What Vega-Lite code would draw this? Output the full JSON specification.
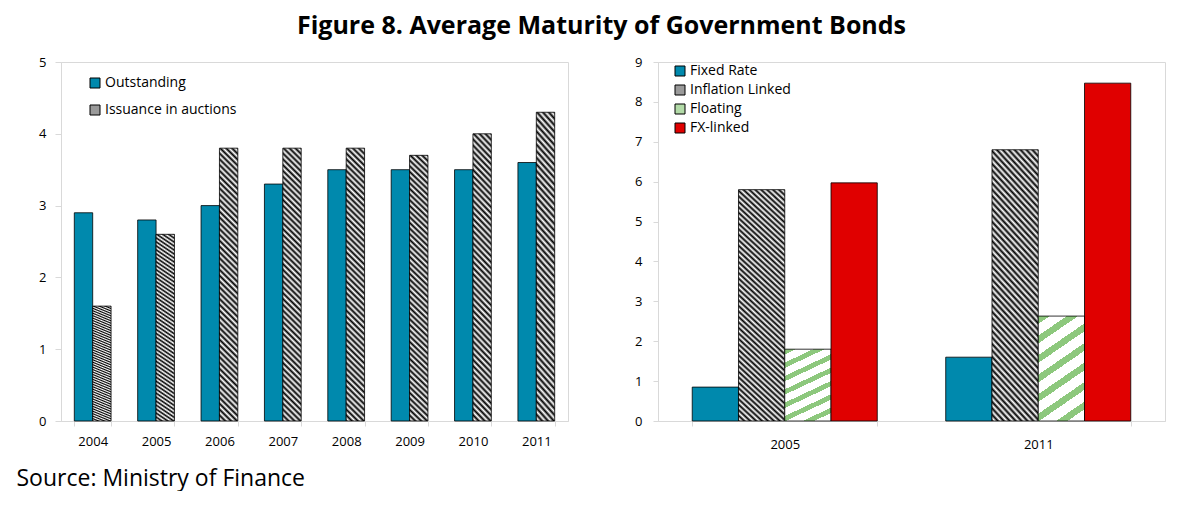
{
  "$schema": "https://vega.github.io/schema/vega-lite/v6.json",
  "background": "white",
  "padding": {"left": 15, "top": 13, "right": 0, "bottom": 0},
  "title": {"text": "Figure 8. Average Maturity of Government Bonds", "font": "Open Sans", "fontSize": 25, "fontWeight": "bold", "color": "black", "anchor": "middle", "frame": "bounds", "offset": 17, "dx": 11},
  "config": {
    "view": {"stroke": "#d9d9d9", "strokeWidth": 1},
    "axis": {"labelFont": "Open Sans", "labelColor": "black", "labelFontSize": 13, "domainColor": "#d9d9d9", "tickColor": "#d9d9d9", "grid": false, "title": null},
    "legend": {"labelFont": "Open Sans", "labelFontSize": 14, "labelColor": "black", "symbolType": "square", "symbolSize": 100, "symbolStrokeColor": "black", "symbolStrokeWidth": 1, "labelOffset": 3, "title": null}
  },
  "spacing": 65,
  "resolve": {"scale": {"fill": "independent", "x": "independent", "y": "independent", "xOffset": "independent"}, "legend": {"fill": "independent"}},
  "hconcat": [
    {
      "width": 507,
      "height": 359,
      "data": {"values": [
        {"year": "2004", "series": "Outstanding", "value": 2.9},
        {"year": "2005", "series": "Outstanding", "value": 2.8},
        {"year": "2006", "series": "Outstanding", "value": 3.0},
        {"year": "2007", "series": "Outstanding", "value": 3.3},
        {"year": "2008", "series": "Outstanding", "value": 3.5},
        {"year": "2009", "series": "Outstanding", "value": 3.5},
        {"year": "2010", "series": "Outstanding", "value": 3.5},
        {"year": "2011", "series": "Outstanding", "value": 3.6},
        {"year": "2004", "series": "Issuance in auctions", "value": 1.6},
        {"year": "2005", "series": "Issuance in auctions", "value": 2.6},
        {"year": "2006", "series": "Issuance in auctions", "value": 3.8},
        {"year": "2007", "series": "Issuance in auctions", "value": 3.8},
        {"year": "2008", "series": "Issuance in auctions", "value": 3.8},
        {"year": "2009", "series": "Issuance in auctions", "value": 3.7},
        {"year": "2010", "series": "Issuance in auctions", "value": 4.0},
        {"year": "2011", "series": "Issuance in auctions", "value": 4.3}
      ]},
      "mark": {"type": "bar", "stroke": "black", "strokeWidth": 0.8},
      "encoding": {
        "x": {"field": "year", "type": "ordinal", "scale": {"paddingInner": 0.42, "paddingOuter": 0.21},
          "axis": {"labelAngle": 0, "tickBand": "extent", "tickSize": 5, "labelPadding": 9,
            "title": "Source: Ministry of Finance", "titleFont": "Open Sans", "titleFontSize": 23, "titleFontWeight": "normal", "titleColor": "black",
            "titleAnchor": "start", "titleAlign": "left", "titleBaseline": "middle", "titleX": -45, "titleY": 57}},
        "xOffset": {"field": "series", "sort": ["Outstanding", "Issuance in auctions"]},
        "y": {"field": "value", "type": "quantitative", "scale": {"domain": [0, 5]},
          "axis": {"values": [0, 1, 2, 3, 4, 5], "tickSize": 6, "labelPadding": 9}},
        "fill": {
          "condition": {"test": "datum.series === 'Issuance in auctions'", "value": {"gradient": "linear", "x1": 0, "y1": 1, "x2": 0.0708, "y2": -0.062, "stops": [
            {"offset":0,"color":"#000"},{"offset":0.01,"color":"#fff"},{"offset":0.02,"color":"#000"},{"offset":0.03,"color":"#fff"},{"offset":0.04,"color":"#000"},{"offset":0.05,"color":"#fff"},{"offset":0.06,"color":"#000"},{"offset":0.07,"color":"#fff"},{"offset":0.08,"color":"#000"},{"offset":0.09,"color":"#fff"},
            {"offset":0.1,"color":"#000"},{"offset":0.11,"color":"#fff"},{"offset":0.12,"color":"#000"},{"offset":0.13,"color":"#fff"},{"offset":0.14,"color":"#000"},{"offset":0.15,"color":"#fff"},{"offset":0.16,"color":"#000"},{"offset":0.17,"color":"#fff"},{"offset":0.18,"color":"#000"},{"offset":0.19,"color":"#fff"},
            {"offset":0.2,"color":"#000"},{"offset":0.21,"color":"#fff"},{"offset":0.22,"color":"#000"},{"offset":0.23,"color":"#fff"},{"offset":0.24,"color":"#000"},{"offset":0.25,"color":"#fff"},{"offset":0.26,"color":"#000"},{"offset":0.27,"color":"#fff"},{"offset":0.28,"color":"#000"},{"offset":0.29,"color":"#fff"},
            {"offset":0.3,"color":"#000"},{"offset":0.31,"color":"#fff"},{"offset":0.32,"color":"#000"},{"offset":0.33,"color":"#fff"},{"offset":0.34,"color":"#000"},{"offset":0.35,"color":"#fff"},{"offset":0.36,"color":"#000"},{"offset":0.37,"color":"#fff"},{"offset":0.38,"color":"#000"},{"offset":0.39,"color":"#fff"},
            {"offset":0.4,"color":"#000"},{"offset":0.41,"color":"#fff"},{"offset":0.42,"color":"#000"},{"offset":0.43,"color":"#fff"},{"offset":0.44,"color":"#000"},{"offset":0.45,"color":"#fff"},{"offset":0.46,"color":"#000"},{"offset":0.47,"color":"#fff"},{"offset":0.48,"color":"#000"},{"offset":0.49,"color":"#fff"},
            {"offset":0.5,"color":"#000"},{"offset":0.51,"color":"#fff"},{"offset":0.52,"color":"#000"},{"offset":0.53,"color":"#fff"},{"offset":0.54,"color":"#000"},{"offset":0.55,"color":"#fff"},{"offset":0.56,"color":"#000"},{"offset":0.57,"color":"#fff"},{"offset":0.58,"color":"#000"},{"offset":0.59,"color":"#fff"},
            {"offset":0.6,"color":"#000"},{"offset":0.61,"color":"#fff"},{"offset":0.62,"color":"#000"},{"offset":0.63,"color":"#fff"},{"offset":0.64,"color":"#000"},{"offset":0.65,"color":"#fff"},{"offset":0.66,"color":"#000"},{"offset":0.67,"color":"#fff"},{"offset":0.68,"color":"#000"},{"offset":0.69,"color":"#fff"},
            {"offset":0.7,"color":"#000"},{"offset":0.71,"color":"#fff"},{"offset":0.72,"color":"#000"},{"offset":0.73,"color":"#fff"},{"offset":0.74,"color":"#000"},{"offset":0.75,"color":"#fff"},{"offset":0.76,"color":"#000"},{"offset":0.77,"color":"#fff"},{"offset":0.78,"color":"#000"},{"offset":0.79,"color":"#fff"},
            {"offset":0.8,"color":"#000"},{"offset":0.81,"color":"#fff"},{"offset":0.82,"color":"#000"},{"offset":0.83,"color":"#fff"},{"offset":0.84,"color":"#000"},{"offset":0.85,"color":"#fff"},{"offset":0.86,"color":"#000"},{"offset":0.87,"color":"#fff"},{"offset":0.88,"color":"#000"},{"offset":0.89,"color":"#fff"},
            {"offset":0.9,"color":"#000"},{"offset":0.91,"color":"#fff"},{"offset":0.92,"color":"#000"},{"offset":0.93,"color":"#fff"},{"offset":0.94,"color":"#000"},{"offset":0.95,"color":"#fff"},{"offset":0.96,"color":"#000"},{"offset":0.97,"color":"#fff"},{"offset":0.98,"color":"#000"},{"offset":0.99,"color":"#fff"},
            {"offset":1,"color":"#000"}
          ]}},
          "field": "series", "type": "nominal", "sort": ["Outstanding", "Issuance in auctions"],
          "scale": {"domain": ["Outstanding", "Issuance in auctions"], "range": ["#0089AD", "#9a9a9a"]},
          "legend": {"orient": "none", "legendX": 27, "legendY": 14, "rowPadding": 13}
        }
      }
    },
    {
      "width": 507,
      "height": 359,
      "data": {"values": [
        {"year": "2005", "series": "Fixed Rate", "value": 0.85},
        {"year": "2005", "series": "Inflation Linked", "value": 5.8},
        {"year": "2005", "series": "Floating", "value": 1.8},
        {"year": "2005", "series": "FX-linked", "value": 5.97},
        {"year": "2011", "series": "Fixed Rate", "value": 1.6},
        {"year": "2011", "series": "Inflation Linked", "value": 6.8},
        {"year": "2011", "series": "Floating", "value": 2.63},
        {"year": "2011", "series": "FX-linked", "value": 8.47}
      ]},
      "mark": {"type": "bar", "stroke": "black", "strokeWidth": 0.8},
      "encoding": {
        "x": {"field": "year", "type": "ordinal", "scale": {"paddingInner": 0.27, "paddingOuter": 0.135},
          "axis": {"labelAngle": 0, "tickBand": "extent", "tickSize": 5, "labelPadding": 12}},
        "xOffset": {"field": "series", "sort": ["Fixed Rate", "Inflation Linked", "Floating", "FX-linked"]},
        "y": {"field": "value", "type": "quantitative", "scale": {"domain": [0, 9]},
          "axis": {"values": [0, 1, 2, 3, 4, 5, 6, 7, 8, 9], "tickSize": 5, "labelPadding": 11}},
        "fill": {
          "condition": [
            {"test": "datum.series === 'Inflation Linked'", "value": {"gradient": "linear", "x1": 0, "y1": 1, "x2": 0.2122, "y2": -0.146, "stops": [
            {"offset":0,"color":"#000"},{"offset":0.01,"color":"#fff"},{"offset":0.02,"color":"#000"},{"offset":0.03,"color":"#fff"},{"offset":0.04,"color":"#000"},{"offset":0.05,"color":"#fff"},{"offset":0.06,"color":"#000"},{"offset":0.07,"color":"#fff"},{"offset":0.08,"color":"#000"},{"offset":0.09,"color":"#fff"},
            {"offset":0.1,"color":"#000"},{"offset":0.11,"color":"#fff"},{"offset":0.12,"color":"#000"},{"offset":0.13,"color":"#fff"},{"offset":0.14,"color":"#000"},{"offset":0.15,"color":"#fff"},{"offset":0.16,"color":"#000"},{"offset":0.17,"color":"#fff"},{"offset":0.18,"color":"#000"},{"offset":0.19,"color":"#fff"},
            {"offset":0.2,"color":"#000"},{"offset":0.21,"color":"#fff"},{"offset":0.22,"color":"#000"},{"offset":0.23,"color":"#fff"},{"offset":0.24,"color":"#000"},{"offset":0.25,"color":"#fff"},{"offset":0.26,"color":"#000"},{"offset":0.27,"color":"#fff"},{"offset":0.28,"color":"#000"},{"offset":0.29,"color":"#fff"},
            {"offset":0.3,"color":"#000"},{"offset":0.31,"color":"#fff"},{"offset":0.32,"color":"#000"},{"offset":0.33,"color":"#fff"},{"offset":0.34,"color":"#000"},{"offset":0.35,"color":"#fff"},{"offset":0.36,"color":"#000"},{"offset":0.37,"color":"#fff"},{"offset":0.38,"color":"#000"},{"offset":0.39,"color":"#fff"},
            {"offset":0.4,"color":"#000"},{"offset":0.41,"color":"#fff"},{"offset":0.42,"color":"#000"},{"offset":0.43,"color":"#fff"},{"offset":0.44,"color":"#000"},{"offset":0.45,"color":"#fff"},{"offset":0.46,"color":"#000"},{"offset":0.47,"color":"#fff"},{"offset":0.48,"color":"#000"},{"offset":0.49,"color":"#fff"},
            {"offset":0.5,"color":"#000"},{"offset":0.51,"color":"#fff"},{"offset":0.52,"color":"#000"},{"offset":0.53,"color":"#fff"},{"offset":0.54,"color":"#000"},{"offset":0.55,"color":"#fff"},{"offset":0.56,"color":"#000"},{"offset":0.57,"color":"#fff"},{"offset":0.58,"color":"#000"},{"offset":0.59,"color":"#fff"},
            {"offset":0.6,"color":"#000"},{"offset":0.61,"color":"#fff"},{"offset":0.62,"color":"#000"},{"offset":0.63,"color":"#fff"},{"offset":0.64,"color":"#000"},{"offset":0.65,"color":"#fff"},{"offset":0.66,"color":"#000"},{"offset":0.67,"color":"#fff"},{"offset":0.68,"color":"#000"},{"offset":0.69,"color":"#fff"},
            {"offset":0.7,"color":"#000"},{"offset":0.71,"color":"#fff"},{"offset":0.72,"color":"#000"},{"offset":0.73,"color":"#fff"},{"offset":0.74,"color":"#000"},{"offset":0.75,"color":"#fff"},{"offset":0.76,"color":"#000"},{"offset":0.77,"color":"#fff"},{"offset":0.78,"color":"#000"},{"offset":0.79,"color":"#fff"},
            {"offset":0.8,"color":"#000"},{"offset":0.81,"color":"#fff"},{"offset":0.82,"color":"#000"},{"offset":0.83,"color":"#fff"},{"offset":0.84,"color":"#000"},{"offset":0.85,"color":"#fff"},{"offset":0.86,"color":"#000"},{"offset":0.87,"color":"#fff"},{"offset":0.88,"color":"#000"},{"offset":0.89,"color":"#fff"},
            {"offset":0.9,"color":"#000"},{"offset":0.91,"color":"#fff"},{"offset":0.92,"color":"#000"},{"offset":0.93,"color":"#fff"},{"offset":0.94,"color":"#000"},{"offset":0.95,"color":"#fff"},{"offset":0.96,"color":"#000"},{"offset":0.97,"color":"#fff"},{"offset":0.98,"color":"#000"},{"offset":0.99,"color":"#fff"},
            {"offset":1,"color":"#000"}
            ]}},
            {"test": "datum.series === 'Floating'", "value": {"gradient": "linear", "x1": 0, "y1": 0, "x2": 0.3617, "y2": 1.1935, "stops": [
              {"offset":0,"color":"#8DC87D"},{"offset":0.0571,"color":"#8DC87D"},{"offset":0.0571,"color":"#fff"},{"offset":0.1429,"color":"#fff"},
              {"offset":0.1429,"color":"#8DC87D"},{"offset":0.2,"color":"#8DC87D"},{"offset":0.2,"color":"#fff"},{"offset":0.2857,"color":"#fff"},
              {"offset":0.2857,"color":"#8DC87D"},{"offset":0.3429,"color":"#8DC87D"},{"offset":0.3429,"color":"#fff"},{"offset":0.4286,"color":"#fff"},
              {"offset":0.4286,"color":"#8DC87D"},{"offset":0.4857,"color":"#8DC87D"},{"offset":0.4857,"color":"#fff"},{"offset":0.5714,"color":"#fff"},
              {"offset":0.5714,"color":"#8DC87D"},{"offset":0.6286,"color":"#8DC87D"},{"offset":0.6286,"color":"#fff"},{"offset":0.7143,"color":"#fff"},
              {"offset":0.7143,"color":"#8DC87D"},{"offset":0.7714,"color":"#8DC87D"},{"offset":0.7714,"color":"#fff"},{"offset":0.8571,"color":"#fff"},
              {"offset":0.8571,"color":"#8DC87D"},{"offset":0.9143,"color":"#8DC87D"},{"offset":0.9143,"color":"#fff"},{"offset":1,"color":"#fff"}
            ]}}
          ],
          "field": "series", "type": "nominal", "sort": ["Fixed Rate", "Inflation Linked", "Floating", "FX-linked"],
          "scale": {"domain": ["Fixed Rate", "Inflation Linked", "Floating", "FX-linked"], "range": ["#0089AD", "#9a9a9a", "#b3dba8", "#E00000"]},
          "legend": {"orient": "none", "legendX": 15, "legendY": 2, "rowPadding": 5}
        }
      }
    }
  ]
}
